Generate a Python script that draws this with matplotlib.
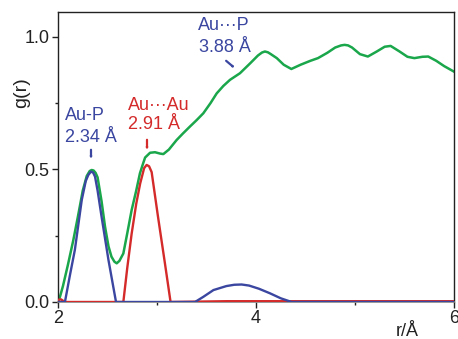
import matplotlib
matplotlib.use("Agg")
import matplotlib.pyplot as plt

plt.rcParams["font.family"] = ["Liberation Sans", "DejaVu Sans"]

# total g(r) (green)
r_total = [2.00, 2.02, 2.05, 2.10, 2.155, 2.20, 2.25, 2.29, 2.32, 2.34, 2.36, 2.38, 2.40, 2.44, 2.475,
           2.51, 2.54, 2.57, 2.593, 2.62, 2.66, 2.70, 2.744, 2.79, 2.828, 2.86, 2.88, 2.93,
           2.98, 3.03, 3.064, 3.12, 3.198, 3.26, 3.333, 3.40, 3.468, 3.54, 3.603, 3.67, 3.737,
           3.838, 3.94, 4.02, 4.06, 4.09, 4.12, 4.15, 4.21, 4.28, 4.357, 4.45, 4.55, 4.626, 4.72, 4.80,
           4.86, 4.895, 4.93, 4.97, 5.05, 5.13, 5.22, 5.30, 5.36, 5.45, 5.53, 5.60, 5.68, 5.74, 5.82,
           5.90, 6.00]
g_total = [0.0, 0.02, 0.06, 0.14, 0.234, 0.32, 0.42, 0.475, 0.494, 0.498, 0.496, 0.487, 0.47, 0.38, 0.284,
           0.21, 0.171, 0.152, 0.146, 0.155, 0.183, 0.26, 0.347, 0.42, 0.486, 0.523, 0.545, 0.563,
           0.565, 0.56, 0.558, 0.575, 0.611, 0.635, 0.662, 0.686, 0.712, 0.75, 0.787, 0.815, 0.838,
           0.863, 0.900, 0.93, 0.941, 0.945, 0.942, 0.935, 0.92, 0.895, 0.879, 0.895, 0.91, 0.92, 0.94, 0.96,
           0.968, 0.970, 0.968, 0.96, 0.935, 0.926, 0.945, 0.963, 0.966, 0.945, 0.925, 0.92, 0.925, 0.926, 0.91,
           0.89, 0.869]

# Au-P partial (blue)
r_aup = [2.00, 2.07, 2.12, 2.17, 2.24, 2.28, 2.306, 2.333, 2.355, 2.374, 2.40, 2.44, 2.51, 2.586, 3.00, 3.384,
         3.47, 3.57, 3.70, 3.78, 3.855, 3.93, 4.03, 4.14, 4.25, 4.36, 5.00, 6.00]
g_aup = [0.0, 0.0, 0.10, 0.196, 0.385, 0.456, 0.479, 0.492, 0.488, 0.473, 0.42, 0.322, 0.158, 0.0, 0.0, 0.0,
         0.02, 0.045, 0.06, 0.065, 0.066, 0.062, 0.05, 0.033, 0.014, 0.0, 0.0, 0.0]

# Au-Au partial (red)
r_auau = [2.00, 2.03, 2.07, 2.66, 2.70, 2.744, 2.79, 2.83, 2.87, 2.895, 2.92, 2.946, 3.01, 3.08, 3.137,
          3.70, 4.50, 6.00]
g_auau = [0.008, 0.01, 0.0, 0.0, 0.13, 0.258, 0.37, 0.447, 0.505, 0.517, 0.512, 0.49, 0.322, 0.146, 0.0,
          0.003, 0.003, 0.003]

x_ticks = [2, 4, 6]
y_ticks = [0.0, 0.5, 1.0]
y_ticklabels = ["0.0", "0.5", "1.0"]

GREEN = "#1aa64a"
BLUE = "#3a46a0"
RED = "#d42a2a"

W, H = 458, 339
fig = plt.figure(figsize=(W / 100, H / 100), dpi=100)
ax = fig.add_axes([58 / W, (H - 302) / H, (454 - 58) / W, (302 - 12) / H])

ax.plot(r_auau, g_auau, color=RED, lw=1.7, zorder=3)
ax.plot(r_aup, g_aup, color=BLUE, lw=1.7, zorder=4)
ax.plot(r_total, g_total, color=GREEN, lw=1.8, zorder=2)

ax.set_xlim(2, 6)
ax.set_ylim(0, 1.094)
ax.set_xticks(x_ticks)
ax.set_xticks([3, 5], minor=True)
ax.set_yticks(y_ticks)
ax.set_yticklabels(y_ticklabels)
ax.set_yticks([0.25, 0.75], minor=True)
ax.tick_params(which="major", direction="out", length=4, width=1, labelsize=13,
               pad=2, colors="#222222")
ax.tick_params(which="minor", direction="out", length=2.5, width=1, colors="#222222")
for side in ["left", "right", "top"]:
    ax.spines[side].set_color("#222222")
    ax.spines[side].set_linewidth(1.0)
ax.spines["bottom"].set_color("#888888")
ax.spines["bottom"].set_linewidth(1.2)

fig.text(22 / W, 1 - 93 / H, "g(r)", rotation=90, ha="center", va="center",
         fontsize=14, color="#222222")
fig.text(407 / W, 1 - 323 / H, "r/Å", ha="center", va="top", fontsize=13, color="#222222")

def px(x, y):
    return (x / W, 1 - y / H)

tk = dict(fontsize=13, ha="left", va="center")
fig.text(*px(65, 115), "Au-P", color=BLUE, **tk)
fig.text(*px(65, 137), "2.34 Å", color=BLUE, **tk)
fig.text(*px(128, 105), "Au···Au", color=RED, **tk)
fig.text(*px(128, 124), "2.91 Å", color=RED, **tk)
fig.text(*px(198, 26), "Au···P", color=BLUE, **tk)
fig.text(*px(199, 47), "3.88 Å", color=BLUE, **tk)

arw = dict(arrowstyle="-|>,head_length=0.35,head_width=0.15", lw=1.6)
fig.patches.append(matplotlib.patches.FancyArrowPatch(
    px(91, 147), px(91, 162), transform=fig.transFigure, color=BLUE, **arw))
fig.patches.append(matplotlib.patches.FancyArrowPatch(
    px(147, 137), px(147, 153), transform=fig.transFigure, color=RED, **arw))
fig.patches.append(matplotlib.patches.FancyArrowPatch(
    px(224, 59), px(237, 70), transform=fig.transFigure, color=BLUE, **arw))

fig.savefig("out.png", dpi=100)
